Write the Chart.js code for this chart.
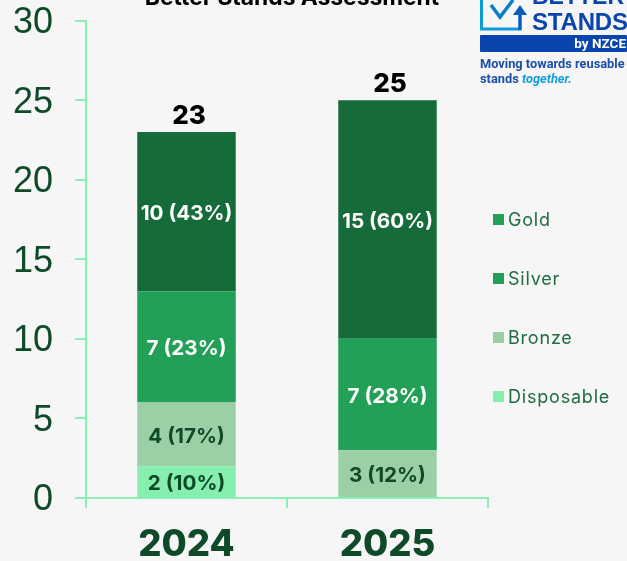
<!DOCTYPE html>
<html>
<head>
<meta charset="utf-8">
<script src="https://cdn.jsdelivr.net/npm/chart.js@4"></script>
<style>
  html, body { margin: 0; padding: 0; background: #f6f6f6; overflow: hidden; }
  #wrap { position: relative; width: 627px; height: 561px; overflow: hidden; font-family: Inter, sans-serif; }
  canvas { position: absolute; left: 0; top: 0; }
  #title { position: absolute; left: 92px; width: 400px; top: -17px; text-align: center; font-size: 22.8px; font-weight: 700; color: #000; white-space: nowrap; }
  #legend { position: absolute; left: 493px; top: 0; }
  .item { position: absolute; left: 0; white-space: nowrap; font-size: 18px; letter-spacing: 0.8px; color: #1f6b43; line-height: 20px; padding-left: 15px; }
  .item i { position: absolute; left: 0; top: 4px; width: 11px; height: 11px; }
  #logo { position: absolute; left: 480px; top: -8px; width: 147px; height: 100px; }
</style>
</head>
<body>
<div id="wrap">
  <canvas id="chart" width="627" height="561"></canvas>
  <div id="title">Better Stands Assessment</div>
  <svg id="logo" viewBox="0 0 147 100">
    <path d="M1.5 0 V37 H41" fill="none" stroke="#0d9bd7" stroke-width="3"/>
    <path d="M11 13 L20 25 L33 8" fill="none" stroke="#0a7fc4" stroke-width="3.5"/>
    <path d="M40 38 V20" fill="none" stroke="#0a5ab8" stroke-width="3.5"/>
    <path d="M33 23 L40 13 L47 23 Z" fill="#0a5ab8"/>
    <text x="52" y="12" font-family="Liberation Sans" font-weight="700" font-size="23" fill="#0a45ad">BETTER</text>
    <text x="52" y="38" font-family="Liberation Sans" font-weight="700" font-size="24" fill="#0a45ad" textLength="96">STANDS</text>
    <rect x="0" y="43" width="147" height="17" rx="1" fill="#0a45ad"/>
    <text x="146" y="56" text-anchor="end" font-family="Roboto" font-weight="700" font-size="13.5" fill="#fff">by NZCE</text>
    <text x="0" y="76" font-family="Roboto" font-weight="700" font-size="12.8" fill="#1a4fa8">Moving towards reusable</text>
    <text x="0" y="91" font-family="Roboto" font-weight="700" font-size="12.8" fill="#1a4fa8">stands <tspan fill="#12a0dc" font-style="italic">together.</tspan></text>
  </svg>
  <div id="legend"></div>
</div>
<script>
const CATEGORIES = ["2024", "2025"];
const GOLD = [10, 15];
const SILVER = [7, 7];
const BRONZE = [4, 3];
const DISPOSABLE = [2, 0];
const TOTALS = [23, 25];
const GOLD_LABELS = ["10 (43%)", "15 (60%)"];
const SILVER_LABELS = ["7 (23%)", "7 (28%)"];
const BRONZE_LABELS = ["4 (17%)", "3 (12%)"];
const DISPOSABLE_LABELS = ["2 (10%)", ""];

const LEGEND_NAMES = ["Gold", "Silver", "Bronze", "Disposable"];
const LEGEND_COLORS = ["#22a057", "#22a057", "#9bd0a6", "#86eeae"];
const LEGEND_Y = [210, 269, 328, 387];

const DARK = "#0e4a28";
const AXIS = "#8aefb3";

const legendEl = document.getElementById("legend");
LEGEND_NAMES.forEach((name, i) => {
  const row = document.createElement("div");
  row.className = "item";
  row.style.top = LEGEND_Y[i] + "px";
  row.innerHTML = `<i style="background:${LEGEND_COLORS[i]}"></i>${name}`;
  legendEl.append(row);
});

// segment labels and stack totals, drawn from the bar elements
const barLabels = {
  id: "barLabels",
  afterDatasetsDraw(chart) {
    const c = chart.ctx;
    c.save();
    c.textAlign = "center";
    c.textBaseline = "middle";
    c.font = "700 20.7px Inter";
    chart.data.datasets.forEach((ds, i) => {
      chart.getDatasetMeta(i).data.forEach((bar, j) => {
        if (!ds.segmentLabels[j]) return;
        c.fillStyle = ds.labelColor;
        c.fillText(ds.segmentLabels[j], bar.x, (bar.y + bar.base) / 2 + 2);
      });
    });
    c.fillStyle = "#000";
    c.font = "800 26px Inter";
    c.textBaseline = "alphabetic";
    const top = chart.getDatasetMeta(chart.data.datasets.length - 1).data;
    TOTALS.forEach((total, j) => c.fillText(total, top[j].x + 2.5, chart.scales.y.getPixelForValue(total) - 8));
    c.restore();
  },
};

new Chart(document.getElementById("chart"), {
  type: "bar",
  data: {
    labels: CATEGORIES,
    datasets: [
      { label: "Disposable", data: DISPOSABLE, backgroundColor: "#86eeae", segmentLabels: DISPOSABLE_LABELS, labelColor: DARK },
      { label: "Bronze", data: BRONZE, backgroundColor: "#9bd0a6", segmentLabels: BRONZE_LABELS, labelColor: DARK },
      { label: "Silver", data: SILVER, backgroundColor: "#22a057", segmentLabels: SILVER_LABELS, labelColor: "#fff" },
      { label: "Gold", data: GOLD, backgroundColor: "#156b3a", segmentLabels: GOLD_LABELS, labelColor: "#fff" },
    ],
  },
  options: {
    responsive: false,
    animation: false,
    layout: { padding: { top: 20.6, right: 139, left: 0, bottom: 0 } },
    datasets: { bar: { categoryPercentage: 1, barPercentage: 0.49 } },
    plugins: { legend: { display: false }, tooltip: { enabled: false } },
    scales: {
      x: {
        stacked: true,
        afterFit: (scale) => { scale.height = 63; },
        grid: { drawOnChartArea: false, color: AXIS, lineWidth: 2, tickLength: 10, offset: true },
        border: { color: AXIS, width: 2 },
        ticks: { color: DARK, font: { family: "Inter", size: 36.5, weight: "800" }, padding: 15 },
      },
      y: {
        stacked: true,
        min: 0,
        max: 30,
        afterFit: (scale) => { scale.width = 86; scale.paddingTop = 0; scale.paddingBottom = 0; },
        grid: { drawOnChartArea: false, color: AXIS, lineWidth: 2, tickLength: 11 },
        border: { color: AXIS, width: 2 },
        // blank first line nudges the number down a little, like the reference
        ticks: { stepSize: 5, color: DARK, font: { family: "Liberation Sans", size: 36, lineHeight: 0.14 }, padding: 22, callback: (v) => ["", String(v)] },
      },
    },
  },
  plugins: [barLabels],
});
</script>
</body>
</html>
